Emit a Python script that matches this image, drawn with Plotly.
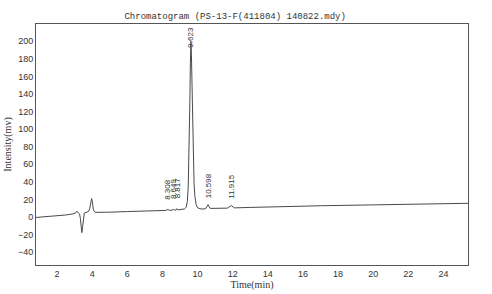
import plotly.graph_objects as go

# Chromatogram trace (time in min, intensity in mV)
time_min = [0.8, 1.5, 2.5, 2.9, 3.05, 3.12, 3.2, 3.28, 3.33, 3.37, 3.41, 3.45, 3.5, 3.55,
            3.7, 3.8, 3.86, 3.92, 3.97, 4.02, 4.07, 4.17, 4.5, 5.0, 6.0, 7.0, 8.0, 8.2,
            8.308, 8.4, 8.55, 8.62, 8.7, 8.78, 8.817, 8.88, 9.0, 9.1, 9.25, 9.35, 9.42,
            9.47, 9.52, 9.56, 9.59, 9.623, 9.65, 9.68, 9.72, 9.76, 9.80, 9.85, 9.92,
            10.0, 10.1, 10.2, 10.45, 10.598, 10.72, 11.0, 11.7, 11.915, 12.1, 13.0,
            15.0, 17.0, 20.0, 22.0, 25.4]
intensity = [-0.5, 0.5, 2.3, 3.5, 4.5, 6.5, 5.0, 3.5, -2.0, -12.0, -17.8, -12.0, -1.0, 4.5,
             5.5, 6.5, 10.0, 17.0, 21.0, 16.0, 8.0, 5.3, 5.2, 5.5, 6.2, 6.8, 7.4, 7.5,
             8.6, 7.6, 7.7, 8.8, 7.9, 8.0, 9.5, 8.2, 8.4, 8.7, 9.2, 11.0, 18.0,
             35.0, 75.0, 130.0, 175.0, 200.0, 185.0, 145.0, 95.0, 60.0, 38.0, 23.0, 14.0,
             10.5, 9.5, 9.1, 9.3, 14.0, 9.8, 9.8, 10.1, 13.0, 10.4, 10.9,
             12.0, 12.8, 13.8, 14.5, 15.6]

peak_times = [8.308, 8.62, 8.84, 9.623, 10.598, 11.915]
peak_labels = ["8.308", "8.649", "8.817", "9.623", "10.598", "11.915"]
peak_heights = [8.6, 8.8, 9.5, 200.0, 14.0, 13.0]
label_shift = [8, 8, 8, -8, 4, 5]

x_ticks = list(range(2, 25, 2))
y_ticks = list(range(-40, 201, 20))

fig = go.Figure()
fig.add_trace(go.Scatter(x=time_min, y=intensity, mode="lines",
                         line=dict(color="#4a4a4a", width=1), hoverinfo="skip"))

for t, lab, h, s in zip(peak_times, peak_labels, peak_heights, label_shift):
    fig.add_annotation(x=t, y=h, text=lab, showarrow=False, textangle=-90,
                       xanchor="center", yanchor="bottom", yshift=s,
                       font=dict(family="Liberation Sans", size=8, color="#333"))

fig.update_layout(
    width=492, height=294,
    margin=dict(l=36, r=24, t=24, b=29),
    paper_bgcolor="white", plot_bgcolor="white",
    showlegend=False,
    title=dict(text="Chromatogram (PS-13-F(411804) 140822.mdy)",
               x=0.478, xanchor="center", y=0.945, yanchor="middle",
               font=dict(family="Liberation Mono", size=9, color="#333")),
    xaxis=dict(range=[0.8, 25.4], tickvals=x_ticks, showgrid=False, zeroline=False,
               showline=True, linecolor="#555", linewidth=1, mirror=True, automargin=False,
               ticks="", tickfont=dict(family="Liberation Sans", size=9, color="#333"),
               title=dict(text="Time(min)", standoff=0,
                          font=dict(family="Liberation Serif", size=10, color="#333"))),
    yaxis=dict(range=[-54.6, 219.6], tickvals=y_ticks, showgrid=False, zeroline=False,
               showline=True, linecolor="#555", linewidth=1, mirror=True, automargin=False,
               ticks="", ticklen=0, tickfont=dict(family="Liberation Sans", size=9, color="#333"),
               title=dict(text="Intensity(mv)", standoff=4,
                          font=dict(family="Liberation Serif", size=10, color="#333"))),
)

fig.write_html("out.html")
